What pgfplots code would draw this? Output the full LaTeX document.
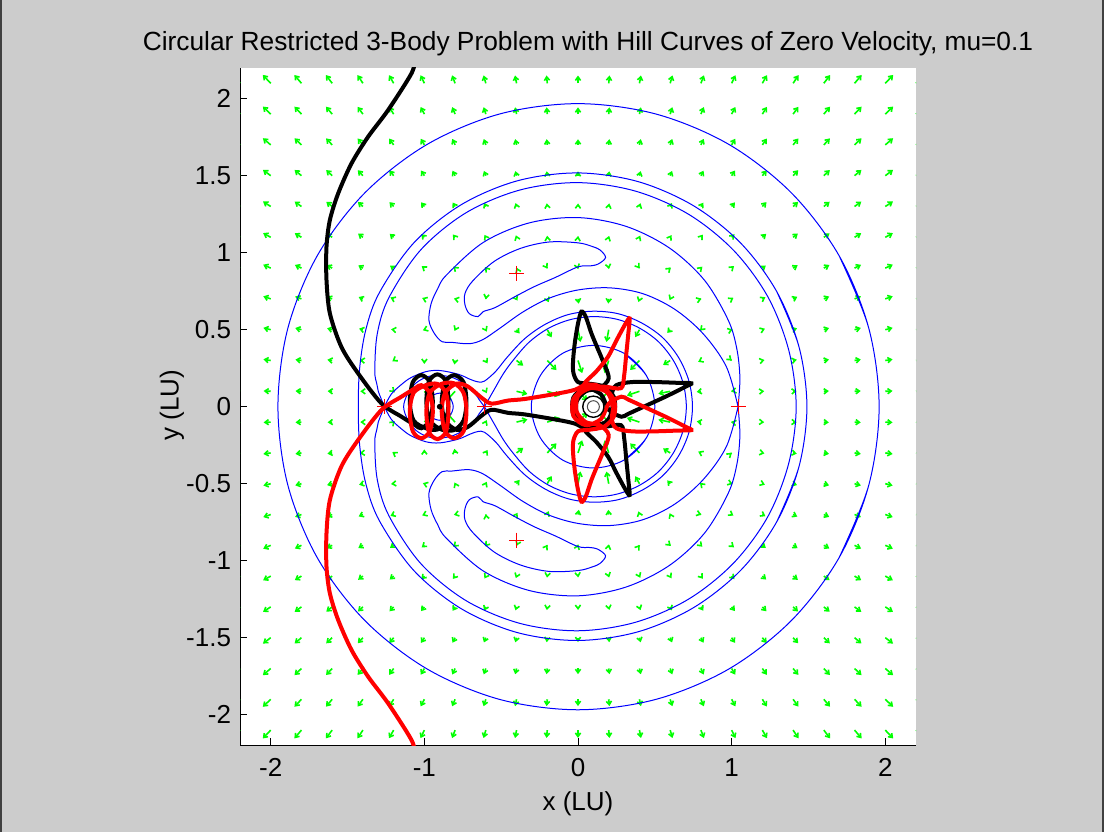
\documentclass[border=0pt]{standalone}
\usepackage{fontspec}
\setmainfont{Liberation Sans}
\usepackage{pgfplots}
\pgfplotsset{compat=1.18}
\usepackage{pgfplotstable}
\usetikzlibrary{arrows.meta}

\definecolor{figgray}{RGB}{204,204,204}
\definecolor{qgreen}{RGB}{0,255,0}

% Velocity field on the grid (upper half plane; lower half is its mirror image)
\pgfplotstableread{
x y u v
-2.2 0.1 -0.0532 0.0024
-2.0 0.1 -0.0462 0.0022
-1.8 0.1 -0.0386 0.0020
-1.6 0.1 -0.0295 0.0014
-1.4 0.1 -0.0169 -0.0001
-1.2 0.1 0.0075 -0.0069
-1.0 0.1 0.0590 -0.0632
-0.8 0.1 -0.0583 -0.0639
-0.6 0.1 0.0063 -0.0127
-0.4 0.1 0.0707 -0.0177
-0.2 0.1 0.0818 -0.0279
0.0 0.1 0.0610 -0.0611
0.2 0.1 -0.0610 -0.0611
0.4 0.1 -0.0819 -0.0275
0.6 0.1 -0.0766 -0.0157
0.8 0.1 -0.0274 -0.0042
1.0 0.1 -0.0032 -0.0006
1.2 0.1 0.0120 0.0009
1.4 0.1 0.0230 0.0016
1.6 0.1 0.0327 0.0020
1.8 0.1 0.0403 0.0022
2.0 0.1 0.0473 0.0024
2.2 0.1 0.0538 0.0024
-2.2 0.3 -0.0540 0.0074
-2.0 0.3 -0.0475 0.0071
-1.8 0.3 -0.0393 0.0061
-1.6 0.3 -0.0309 0.0048
-1.4 0.3 -0.0208 0.0020
-1.2 0.3 -0.0085 -0.0056
-1.0 0.3 -0.0004 -0.0224
-0.8 0.3 -0.0045 -0.0260
-0.6 0.3 0.0117 -0.0190
-0.4 0.3 0.0437 -0.0328
-0.2 0.3 0.0599 -0.0623
0.0 0.3 0.0272 -0.0820
0.2 0.3 -0.0270 -0.0821
0.4 0.3 -0.0605 -0.0616
0.6 0.3 -0.0462 -0.0289
0.8 0.3 -0.0178 -0.0086
1.0 0.3 0.0007 -0.0006
1.2 0.3 0.0138 0.0031
1.4 0.3 0.0240 0.0050
1.6 0.3 0.0332 0.0062
1.8 0.3 0.0406 0.0068
2.0 0.3 0.0475 0.0071
2.2 0.3 0.0540 0.0074
-2.2 0.5 -0.0542 0.0123
-2.0 0.5 -0.0478 0.0120
-1.8 0.5 -0.0403 0.0107
-1.6 0.5 -0.0328 0.0092
-1.4 0.5 -0.0248 0.0066
-1.2 0.5 -0.0166 0.0022
-1.0 0.5 -0.0098 -0.0036
-0.8 0.5 -0.0036 -0.0078
-0.6 0.5 0.0064 -0.0124
-0.4 0.5 0.0197 -0.0247
-0.2 0.5 0.0284 -0.0499
0.0 0.5 0.0161 -0.0794
0.2 0.5 -0.0146 -0.0789
0.4 0.5 -0.0273 -0.0483
0.6 0.5 -0.0192 -0.0212
0.8 0.5 -0.0059 -0.0058
1.0 0.5 0.0063 0.0022
1.2 0.5 0.0167 0.0065
1.4 0.5 0.0256 0.0089
1.6 0.5 0.0340 0.0106
1.8 0.5 0.0411 0.0114
2.0 0.5 0.0478 0.0120
2.2 0.5 0.0542 0.0123
-2.2 0.7 -0.0546 0.0174
-2.0 0.7 -0.0483 0.0169
-1.8 0.7 -0.0414 0.0156
-1.6 0.7 -0.0346 0.0142
-1.4 0.7 -0.0276 0.0122
-1.2 0.7 -0.0208 0.0093
-1.0 0.7 -0.0142 0.0059
-0.8 0.7 -0.0076 0.0021
-0.6 0.7 -0.0005 -0.0029
-0.4 0.7 0.0062 -0.0108
-0.2 0.7 0.0092 -0.0216
0.0 0.7 0.0052 -0.0305
0.2 0.7 -0.0028 -0.0301
0.4 0.7 -0.0068 -0.0202
0.6 0.7 -0.0038 -0.0082
0.8 0.7 0.0033 0.0011
1.0 0.7 0.0116 0.0072
1.2 0.7 0.0198 0.0111
1.4 0.7 0.0275 0.0135
1.6 0.7 0.0351 0.0154
1.8 0.7 0.0419 0.0163
2.0 0.7 0.0483 0.0169
2.2 0.7 0.0546 0.0174
-2.2 0.9 -0.0550 0.0225
-2.0 0.9 -0.0489 0.0220
-1.8 0.9 -0.0425 0.0208
-1.6 0.9 -0.0361 0.0196
-1.4 0.9 -0.0298 0.0180
-1.2 0.9 -0.0235 0.0159
-1.0 0.9 -0.0173 0.0134
-0.8 0.9 -0.0114 0.0104
-0.6 0.9 -0.0057 0.0067
-0.4 0.9 -0.0009 0.0020
-0.2 0.9 0.0019 -0.0030
0.0 0.9 0.0021 -0.0063
0.2 0.9 0.0011 -0.0060
0.4 0.9 0.0014 -0.0019
0.6 0.9 0.0043 0.0038
0.8 0.9 0.0095 0.0092
1.0 0.9 0.0158 0.0134
1.2 0.9 0.0226 0.0165
1.4 0.9 0.0294 0.0186
1.6 0.9 0.0362 0.0204
1.8 0.9 0.0426 0.0213
2.0 0.9 0.0489 0.0220
2.2 0.9 0.0550 0.0225
-2.2 1.1 -0.0554 0.0277
-2.0 1.1 -0.0495 0.0272
-1.8 1.1 -0.0434 0.0261
-1.6 1.1 -0.0374 0.0251
-1.4 1.1 -0.0314 0.0239
-1.2 1.1 -0.0255 0.0223
-1.0 1.1 -0.0197 0.0204
-0.8 1.1 -0.0142 0.0182
-0.6 1.1 -0.0091 0.0156
-0.4 1.1 -0.0047 0.0129
-0.2 1.1 -0.0013 0.0103
0.0 1.1 0.0010 0.0088
0.2 1.1 0.0028 0.0091
0.4 1.1 0.0052 0.0111
0.6 1.1 0.0087 0.0141
0.8 1.1 0.0134 0.0173
1.0 1.1 0.0189 0.0201
1.2 1.1 0.0249 0.0224
1.4 1.1 0.0310 0.0241
1.6 1.1 0.0373 0.0256
1.8 1.1 0.0434 0.0265
2.0 1.1 0.0495 0.0272
2.2 1.1 0.0554 0.0277
-2.2 1.3 -0.0558 0.0330
-2.0 1.3 -0.0500 0.0325
-1.8 1.3 -0.0442 0.0316
-1.6 1.3 -0.0384 0.0308
-1.4 1.3 -0.0326 0.0298
-1.2 1.3 -0.0270 0.0285
-1.0 1.3 -0.0215 0.0271
-0.8 1.3 -0.0162 0.0255
-0.6 1.3 -0.0113 0.0238
-0.4 1.3 -0.0068 0.0221
-0.2 1.3 -0.0029 0.0207
0.0 1.3 0.0005 0.0200
0.2 1.3 0.0037 0.0201
0.4 1.3 0.0072 0.0212
0.6 1.3 0.0112 0.0230
0.8 1.3 0.0158 0.0249
1.0 1.3 0.0210 0.0268
1.2 1.3 0.0266 0.0285
1.4 1.3 0.0324 0.0298
1.6 1.3 0.0383 0.0311
1.8 1.3 0.0442 0.0319
2.0 1.3 0.0500 0.0325
2.2 1.3 0.0558 0.0330
-2.2 1.5 -0.0563 0.0384
-2.0 1.5 -0.0505 0.0379
-1.8 1.5 -0.0448 0.0374
-1.6 1.5 -0.0391 0.0367
-1.4 1.5 -0.0334 0.0358
-1.2 1.5 -0.0278 0.0348
-1.0 1.5 -0.0224 0.0336
-0.8 1.5 -0.0172 0.0323
-0.6 1.5 -0.0124 0.0309
-0.4 1.5 -0.0079 0.0297
-0.2 1.5 -0.0038 0.0288
0.0 1.5 0.0000 0.0285
0.2 1.5 0.0038 0.0288
0.4 1.5 0.0079 0.0297
0.6 1.5 0.0124 0.0309
0.8 1.5 0.0172 0.0323
1.0 1.5 0.0224 0.0336
1.2 1.5 0.0278 0.0348
1.4 1.5 0.0334 0.0358
1.6 1.5 0.0391 0.0367
1.8 1.5 0.0448 0.0374
2.0 1.5 0.0505 0.0379
2.2 1.5 0.0563 0.0384
-2.2 1.7 -0.0566 0.0438
-2.0 1.7 -0.0510 0.0434
-1.8 1.7 -0.0454 0.0429
-1.6 1.7 -0.0398 0.0423
-1.4 1.7 -0.0343 0.0416
-1.2 1.7 -0.0288 0.0408
-1.0 1.7 -0.0235 0.0399
-0.8 1.7 -0.0183 0.0390
-0.6 1.7 -0.0134 0.0381
-0.4 1.7 -0.0088 0.0373
-0.2 1.7 -0.0043 0.0368
0.0 1.7 0.0000 0.0366
0.2 1.7 0.0043 0.0368
0.4 1.7 0.0088 0.0373
0.6 1.7 0.0134 0.0381
0.8 1.7 0.0183 0.0390
1.0 1.7 0.0235 0.0399
1.2 1.7 0.0288 0.0408
1.4 1.7 0.0343 0.0416
1.6 1.7 0.0398 0.0423
1.8 1.7 0.0454 0.0429
2.0 1.7 0.0510 0.0434
2.2 1.7 0.0566 0.0438
-2.2 1.9 -0.0570 0.0492
-2.0 1.9 -0.0514 0.0489
-1.8 1.9 -0.0459 0.0484
-1.6 1.9 -0.0404 0.0480
-1.4 1.9 -0.0349 0.0474
-1.2 1.9 -0.0295 0.0468
-1.0 1.9 -0.0243 0.0461
-0.8 1.9 -0.0191 0.0455
-0.6 1.9 -0.0142 0.0448
-0.4 1.9 -0.0093 0.0443
-0.2 1.9 -0.0046 0.0440
0.0 1.9 0.0000 0.0438
0.2 1.9 0.0046 0.0440
0.4 1.9 0.0093 0.0443
0.6 1.9 0.0142 0.0448
0.8 1.9 0.0191 0.0455
1.0 1.9 0.0243 0.0461
1.2 1.9 0.0295 0.0468
1.4 1.9 0.0349 0.0474
1.6 1.9 0.0404 0.0480
1.8 1.9 0.0459 0.0484
2.0 1.9 0.0514 0.0489
2.2 1.9 0.0570 0.0492
-2.2 2.1 -0.0573 0.0547
-2.0 2.1 -0.0518 0.0544
-1.8 2.1 -0.0463 0.0540
-1.6 2.1 -0.0409 0.0536
-1.4 2.1 -0.0355 0.0532
-1.2 2.1 -0.0301 0.0527
-1.0 2.1 -0.0249 0.0522
-0.8 2.1 -0.0197 0.0517
-0.6 2.1 -0.0147 0.0513
-0.4 2.1 -0.0097 0.0509
-0.2 2.1 -0.0048 0.0507
0.0 2.1 0.0000 0.0506
0.2 2.1 0.0048 0.0507
0.4 2.1 0.0097 0.0509
0.6 2.1 0.0147 0.0513
0.8 2.1 0.0197 0.0517
1.0 2.1 0.0249 0.0522
1.2 2.1 0.0301 0.0527
1.4 2.1 0.0355 0.0532
1.6 2.1 0.0409 0.0536
1.8 2.1 0.0463 0.0540
2.0 2.1 0.0518 0.0544
2.2 2.1 0.0573 0.0547
}\fieldtable

% Tadpole branch of the C(L3) curve, polar (angle, radius) about the origin
\pgfplotstableread{
a r
0 1.0416
10 1.070
20 1.100
30 1.128
45 1.163
60 1.190
75 1.212
90 1.228
105 1.235
120 1.232
135 1.210
140 1.192
145 1.167
150 1.120
153 1.050
154.5 0.980
153 0.920
150 0.818
145 0.758
135 0.720
120 0.712
105 0.729
90 0.758
75 0.799
60 0.847
45 0.893
30 0.943
15 1.000
0 1.0416
}\tadpole

% Kidney-shaped curve around L4, polar (angle, radius) about the origin
\pgfplotstableread{
a r
85 0.918
82 0.935
79.5 0.985
82 1.028
85 1.045
90 1.064
100 1.086
110 1.094
120 1.090
130 1.066
135 1.040
138 0.990
139.5 0.930
138 0.875
135 0.873
130 0.840
120 0.824
110 0.830
100 0.852
90 0.908
85 0.918
82 0.935
79.5 0.985
82 1.028
85 1.045
}\kidney

% Trajectory (black); the red one is its mirror image in the x axis
\pgfplotstableread{
x y
-1.060 2.260
-1.084 2.164
-1.236 1.926
-1.366 1.753
-1.474 1.580
-1.561 1.385
-1.615 1.212
-1.637 1.039
-1.637 0.822
-1.615 0.606
-1.540 0.388
-1.431 0.216
-1.279 0.021
-1.149 -0.065
-1.060 -0.120
-1.020 -0.140
-0.965 -0.090
-0.945 0.030
-0.965 0.160
-1.020 0.205
-1.075 0.160
-1.095 0.030
-1.070 -0.090
-0.990 -0.140
-0.915 -0.148
-0.860 -0.090
-0.843 0.030
-0.860 0.165
-0.915 0.210
-0.970 0.165
-0.987 0.030
-0.965 -0.090
-0.890 -0.148
-0.807 -0.152
-0.745 -0.090
-0.726 0.030
-0.745 0.160
-0.807 0.205
-0.865 0.160
-0.887 0.030
-0.865 -0.090
-0.790 -0.150
-0.715 -0.130
-0.630 -0.060
-0.563 -0.020
-0.455 -0.040
-0.347 -0.050
-0.130 -0.086
-0.020 -0.110
0.060 -0.145
0.170 -0.120
0.235 -0.040
0.235 0.060
0.170 0.130
0.070 0.150
0.000 0.160
-0.030 0.220
-0.032 0.300
-0.020 0.420
0.000 0.540
0.022 0.617
0.050 0.585
0.087 0.477
0.125 0.385
0.159 0.304
0.200 0.185
0.140 0.120
0.050 0.100
-0.010 0.030
0.000 -0.070
0.080 -0.120
0.180 -0.100
0.230 -0.020
0.220 0.080
0.250 0.140
0.350 0.160
0.500 0.160
0.650 0.155
0.738 0.152
0.700 0.130
0.580 0.070
0.450 0.010
0.330 -0.045
0.282 -0.065
0.200 -0.020
0.150 0.080
0.050 0.120
-0.030 0.060
-0.030 -0.050
0.050 -0.120
0.170 -0.130
0.280 -0.120
0.300 -0.200
0.315 -0.350
0.328 -0.480
0.336 -0.573
0.310 -0.540
0.250 -0.430
0.196 -0.325
0.120 -0.230
0.043 -0.150
0.120 -0.140
0.200 -0.080
0.225 0.000
}\orbit

\pgfplotsset{
  every tick label/.append style={font=\fontsize{13bp}{15bp}\selectfont},
  hill/.style={blue, line width=0.5bp, smooth, tension=0.55, no markers},
  field/.style={qgreen, line width=0.8bp},
}

\begin{document}
\begin{tikzpicture}
\fill[figgray] (0,0) rectangle (552bp,416bp);
\draw[black!75, line width=1bp] (0.5bp,0) -- (0.5bp,416bp);
\draw[black!75, line width=1bp] (551.5bp,0) -- (551.5bp,416bp);
\begin{axis}[
  at={(120bp,43.25bp)}, anchor=south west,
  width=338bp, height=338.8bp, scale only axis,
  xmin=-2.2, xmax=2.2, ymin=-2.2, ymax=2.2,
  axis lines*=left,
  axis line style={line width=0.5bp, black},
  axis background/.style={fill=white},
  tick align=inside,
  major tick length=3.5bp,
  tick style={line width=0.5bp, black},
  xtick={-2,-1,0,1,2},
  xticklabels={-2,-1,0,1,2},
  ytick={-2,-1.5,-1,-0.5,0,0.5,1,1.5,2},
  yticklabels={-2,-1.5,-1,-0.5,0,0.5,1,1.5,2},
  xticklabel style={anchor=base, yshift=-15.75bp},
  yticklabel style={anchor=base east, xshift=-1bp, yshift=-4.6bp},
  clip=true,
]
% velocity field
\addplot[field,
  quiver={u=\thisrow{u}, v=\thisrow{v},
    every arrow/.append style={-{Straight Barb[length=1.8bp,width=2.6bp]}}}]
  table[x=x, y=y] {\fieldtable};
\addplot[field,
  quiver={u=\thisrow{u}, v=-\thisrow{v},
    every arrow/.append style={-{Straight Barb[length=1.8bp,width=2.6bp]}}}]
  table[x=x, y expr=-\thisrow{y}] {\fieldtable};

% outer curve and the small ovals round the two bodies
\addplot[hill, data cs=polar] coordinates {
 (-30,1.962) (-15,1.960)
 (0,1.960) (15,1.960) (30,1.962) (45,1.964) (60,1.966) (75,1.967) (90,1.968)
 (105,1.968) (120,1.966) (135,1.963) (150,1.960) (165,1.956) (180,1.953)
 (195,1.956) (210,1.960) (225,1.963) (240,1.966) (255,1.968) (270,1.968)
 (285,1.967) (300,1.966) (315,1.964) (330,1.962) (345,1.960) (360,1.960)
 (375,1.960) (390,1.962)};
\addplot[hill] coordinates {
 (0.3,-0.3464) (0.4464,-0.200)
 (0.500,0) (0.4464,0.200) (0.300,0.3464) (0.100,0.398) (-0.100,0.3464)
 (-0.2464,0.200) (-0.304,0) (-0.2464,-0.200) (-0.100,-0.3464) (0.100,-0.398)
 (0.300,-0.3464) (0.4464,-0.200) (0.500,0) (0.4464,0.200) (0.300,0.3464)};
\addplot[hill] coordinates {
 (-0.900,-0.088) (-0.8378,-0.0622)
 (-0.812,0) (-0.8378,0.0622) (-0.900,0.088) (-0.9622,0.0622) (-0.988,0)
 (-0.9622,-0.0622) (-0.900,-0.088) (-0.8378,-0.0622) (-0.812,0)
 (-0.8378,0.0622) (-0.900,0.088)};

% C(L1): outer ring and figure eight through L1
\addplot[hill, data cs=polar] coordinates {
 (-30,1.494) (-15,1.49)
 (0,1.49) (15,1.49) (30,1.494) (45,1.50) (60,1.506) (75,1.513) (90,1.518)
 (105,1.519) (120,1.516) (135,1.508) (150,1.49) (160,1.469) (170,1.443)
 (180,1.43) (190,1.443) (200,1.469) (210,1.49) (225,1.508) (240,1.516)
 (255,1.519) (270,1.518) (285,1.513) (300,1.506) (315,1.50) (330,1.494)
 (345,1.49) (360,1.49) (375,1.49) (390,1.494)};
\addplot[hill] coordinates {
 (-0.609,0) (-0.5441,0.1136) (-0.4864,0.2134) (-0.4222,0.3015) (-0.3186,0.4186)
 (-0.1935,0.5084) (-0.0514,0.5651) (0.100,0.585) (0.2522,0.568) (0.396,0.5127)
 (0.5228,0.4228) (0.6205,0.3005) (0.6834,0.1563) (0.705,0)
 (0.6834,-0.1563) (0.6205,-0.3005) (0.5228,-0.4228) (0.396,-0.5127)
 (0.2522,-0.568) (0.100,-0.585) (-0.0514,-0.5651) (-0.1935,-0.5084)
 (-0.3186,-0.4186) (-0.4222,-0.3015) (-0.4864,-0.2134) (-0.5441,-0.1136) (-0.609,0)};
\addplot[hill] coordinates {
 (-0.609,0) (-0.643,0.0453) (-0.6698,0.0838) (-0.7473,0.1527) (-0.8125,0.1876)
 (-0.900,0.204) (-0.9787,0.1947) (-1.0541,0.1541) (-1.1086,0.0843) (-1.135,0)
 (-1.1086,-0.0843) (-1.0541,-0.1541) (-0.9787,-0.1947) (-0.900,-0.204)
 (-0.8125,-0.1876) (-0.7473,-0.1527) (-0.6698,-0.0838) (-0.643,-0.0453) (-0.609,0)};

% C(L2): outer branch and inner branch meeting at L2
\addplot[hill] coordinates {
 (-1.26,0) (-1.30,0.10) (-1.31,0.15) (-1.3226,0.2332) (-1.3062,0.4754)
 (-1.2298,0.710) (-1.0211,1.0211) (-0.7275,1.2601) (-0.3771,1.4073) (0,1.455)
 (0.375,1.3996) (0.721,1.2488) (1.014,1.014) (1.2358,0.7135) (1.3716,0.3675)
 (1.42,0) (1.3716,-0.3675) (1.2358,-0.7135) (1.014,-1.014) (0.721,-1.2488)
 (0.375,-1.3996) (0,-1.455) (-0.3771,-1.4073) (-0.7275,-1.2601)
 (-1.0211,-1.0211) (-1.2298,-0.710) (-1.3062,-0.4754) (-1.3226,-0.2332)
 (-1.31,-0.15) (-1.30,-0.10) (-1.26,0)};
\addplot[hill] coordinates {
 (-1.26,0) (-1.215,0.082) (-1.1494,0.144) (-1.0881,0.1881) (-0.9918,0.2272)
 (-0.900,0.235) (-0.7785,0.2104) (-0.700,0.177) (-0.650,0.161) (-0.609,0.166)
 (-0.5343,0.2309) (-0.4595,0.323) (-0.3441,0.4441) (-0.210,0.5369)
 (-0.0605,0.5989) (0.100,0.620) (0.2618,0.6037) (0.414,0.5439) (0.5497,0.4497)
 (0.6543,0.320) (0.722,0.1667) (0.745,0)
 (0.722,-0.1667) (0.6543,-0.320) (0.5497,-0.4497) (0.414,-0.5439)
 (0.2618,-0.6037) (0.100,-0.620) (-0.0605,-0.5989) (-0.210,-0.5369)
 (-0.3441,-0.4441) (-0.4595,-0.323) (-0.5343,-0.2309) (-0.609,-0.166)
 (-0.650,-0.161) (-0.700,-0.177) (-0.7785,-0.2104) (-0.900,-0.235)
 (-0.9918,-0.2272) (-1.0881,-0.1881) (-1.1494,-0.144) (-1.215,-0.082) (-1.26,0)};

% C(L3) tadpoles and the kidney curves round L4 and L5
\addplot[hill, data cs=polar] table[x=a, y=r] {\tadpole};
\addplot[hill, data cs=polar] table[x expr=-\thisrow{a}, y=r] {\tadpole};
\addplot[hill, data cs=polar] table[x=a, y=r] {\kidney};
\addplot[hill, data cs=polar] table[x expr=-\thisrow{a}, y=r] {\kidney};

% Lagrange points
\addplot[red, only marks, mark=+, mark size=3.75bp, line width=0.5bp]
  coordinates {(-0.4,0.866) (-0.4,-0.866) (1.0416,0) (-0.609,0) (-1.26,0)};

% trajectories
\addplot[black, line width=2bp, smooth, tension=0.5, no markers]
  table[x=x, y=y] {\orbit};
\addplot[red, line width=2bp, smooth, tension=0.5, no markers]
  table[x=x, y expr=-\thisrow{y}] {\orbit};

% the two primaries
\addplot[only marks, mark=*, mark size=5.3bp, mark options={draw=black, fill=white, line width=0.7bp}]
  coordinates {(0.1,0)};
\addplot[only marks, mark=o, mark size=3bp, mark options={draw=black!70, line width=0.5bp}]
  coordinates {(0.1,0)};
\addplot[only marks, mark=*, mark size=1.2bp, black] coordinates {(-0.9,0)};
\end{axis}
\node[font=\fontsize{13.15bp}{15bp}\selectfont, anchor=base] at (294bp,390.5bp)
  {Circular Restricted 3-Body Problem with Hill Curves of Zero Velocity, mu=0.1};
\node[font=\fontsize{13bp}{15bp}\selectfont, anchor=base] at (289bp,11bp) {x (LU)};
\node[font=\fontsize{13bp}{15bp}\selectfont, rotate=90, anchor=center] at (86bp,213.5bp) {y (LU)};
\pgfresetboundingbox
\useasboundingbox (0,0) rectangle (552bp,416bp);
\end{tikzpicture}
\end{document}
